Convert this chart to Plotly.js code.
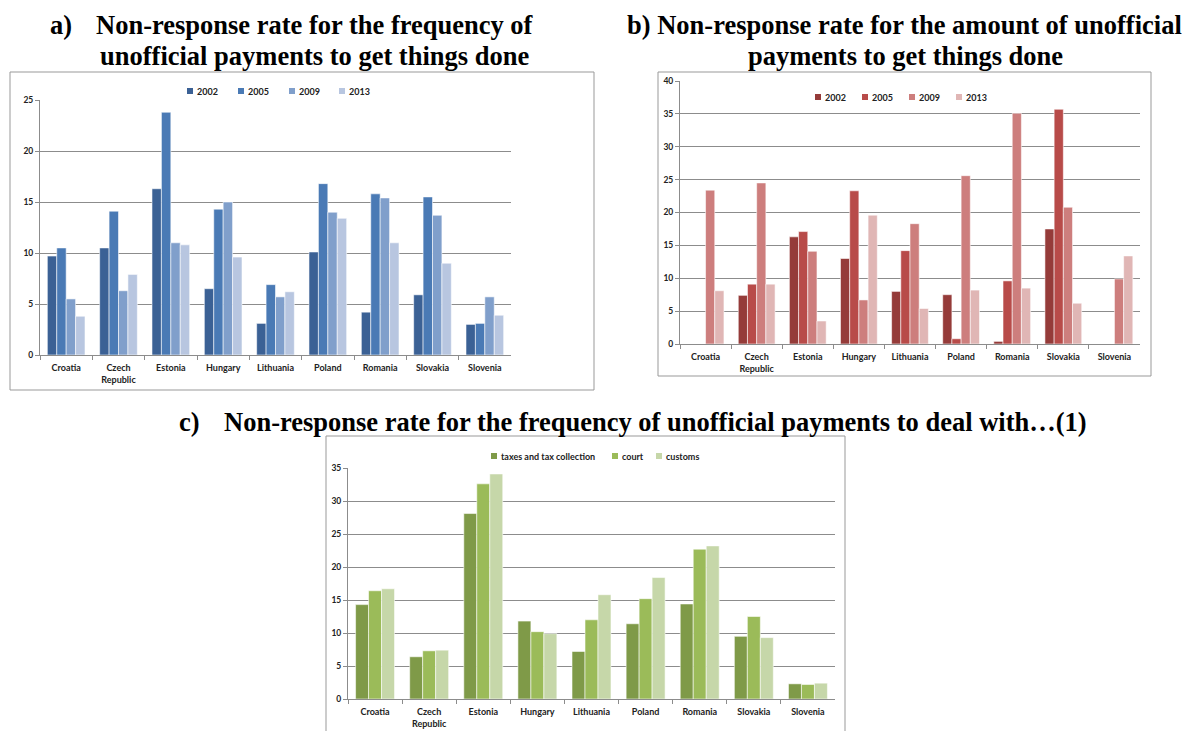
<!DOCTYPE html>
<html>
<head>
<meta charset="utf-8">
<script src="https://cdn.plot.ly/plotly-3.0.1.min.js"></script>
<style>
  html, body { margin: 0; padding: 0; background: #fff; }
  #chart { width: 1186px; height: 731px; }
</style>
</head>
<body>
<div id="chart"></div>
<script>
// countries shared by the three panels
const countries = ['Croatia', 'Czech<br>Republic', 'Estonia', 'Hungary', 'Lithuania',
                   'Poland', 'Romania', 'Slovakia', 'Slovenia'];

// a) frequency of unofficial payments to get things done
const yearsA = ['2002', '2005', '2009', '2013'];
const freq2002 = [9.7, 10.5, 16.3, 6.5, 3.1, 10.1, 4.2, 5.9, 3.0];
const freq2005 = [10.5, 14.1, 23.8, 14.3, 6.9, 16.8, 15.8, 15.5, 3.1];
const freq2009 = [5.5, 6.3, 11.0, 15.0, 5.7, 14.0, 15.4, 13.7, 5.7];
const freq2013 = [3.8, 7.9, 10.8, 9.6, 6.2, 13.4, 11.0, 9.0, 3.9];

// b) amount of unofficial payments to get things done
const amt2002 = [null, 7.4, 16.3, 13.0, 8.0, 7.5, 0.4, 17.5, null];
const amt2005 = [null, 9.1, 17.1, 23.3, 14.2, 0.8, 9.6, 35.7, null];
const amt2009 = [23.4, 24.5, 14.1, 6.7, 18.3, 25.6, 35.1, 20.8, 9.9];
const amt2013 = [8.1, 9.1, 3.5, 19.6, 5.4, 8.2, 8.5, 6.2, 13.4];

// c) frequency of unofficial payments to deal with...
const dealNames = ['taxes and tax collection', 'court', 'customs'];
const dealTaxes = [14.3, 6.4, 28.1, 11.8, 7.2, 11.4, 14.4, 9.5, 2.3];
const dealCourt = [16.4, 7.3, 32.6, 10.2, 12.0, 15.2, 22.7, 12.5, 2.2];
const dealCustoms = [16.7, 7.4, 34.1, 9.9, 15.8, 18.4, 23.2, 9.3, 2.4];

const blues = ['#3b6195', '#4a7ab5', '#809fcb', '#b8c6e0'];
const reds = ['#953b39', '#b84b49', '#cd7e7d', '#e0b6b5'];
const greens = ['#7f9a48', '#9bbb59', '#c6d7a9'];

const W = 1186, H = 731;
const px = x => x / W;
const py = y => 1 - y / H;

const gray = '#8c8c8c';
const sans = 'Lato, "Open Sans", sans-serif';
const tickFont = { family: sans, size: 8.5, color: '#222', weight: 'bold' };
const catFont = { family: sans, size: 9, color: '#222', weight: 'bold' };
const keyFont = { family: sans, size: 9, color: '#222', weight: 'bold' };
const titleFont = { family: '"Liberation Serif", "Times New Roman", serif', size: 26.5, color: '#000', weight: 'bold' };

const shapes = [];
const annotations = [];

// Excel-style keys: a small square right before the series name
function key(name, color, textX, textY) {
  shapes.push({ type: 'rect', xref: 'paper', yref: 'paper',
                x0: px(textX - 8), x1: px(textX - 2), y0: py(textY + 3), y1: py(textY - 3),
                fillcolor: color, line: { width: 0 } });
  annotations.push({ text: name, xref: 'paper', yref: 'paper', x: px(textX), y: py(textY),
                     xanchor: 'left', yanchor: 'middle', showarrow: false, font: keyFont });
}

function bars(name, values, color, xa, ya) {
  return {
    type: 'bar', name: name, x: countries, y: values,
    xaxis: xa, yaxis: ya, showlegend: false,
    marker: { color: color, line: { color: 'rgba(255,255,255,0.7)', width: 0.8 } },
    hoverinfo: 'x+y+name'
  };
}

const data = [];
const keyA = [195, 246, 297, 347];
[freq2002, freq2005, freq2009, freq2013].forEach((v, i) => {
  data.push(bars(yearsA[i], v, blues[i], 'x', 'y'));
  key(yearsA[i], blues[i], keyA[i], 91);
});
const keyB = [823, 870, 917, 964];
[amt2002, amt2005, amt2009, amt2013].forEach((v, i) => {
  data.push(bars(yearsA[i], v, reds[i], 'x2', 'y2'));
  key(yearsA[i], reds[i], keyB[i], 97);
});
const keyC = [499, 620, 664];
[dealTaxes, dealCourt, dealCustoms].forEach((v, i) => {
  data.push(bars(dealNames[i], v, greens[i], 'x3', 'y3'));
  key(dealNames[i], greens[i], keyC[i], 456);
});

function xAxis(domain, anchor) {
  return {
    domain: domain, anchor: anchor, type: 'category',
    showline: true, linecolor: gray, linewidth: 1,
    ticks: 'outside', tickson: 'boundaries', ticklen: 4, tickcolor: gray,
    ticklabelstandoff: 4,
    showgrid: false, tickfont: catFont, fixedrange: true
  };
}
function yAxis(domain, anchor, top) {
  return {
    domain: domain, anchor: anchor, range: [0, top], dtick: 5,
    showline: true, linecolor: gray, linewidth: 1,
    ticks: 'outside', ticklen: 4, tickcolor: gray,
    showgrid: true, gridcolor: gray, gridwidth: 1, zeroline: false,
    tickfont: tickFont, fixedrange: true
  };
}
function box(x0, y0, x1, y1) {
  shapes.push({ type: 'rect', xref: 'paper', yref: 'paper',
                x0: px(x0), x1: px(x1), y0: py(y1), y1: py(y0),
                line: { color: '#999', width: 1 }, layer: 'below' });
}
function note(text, x, y, xanchor) {
  annotations.push({ text: text, xref: 'paper', yref: 'paper', x: px(x), y: py(y),
                     xanchor: xanchor, yanchor: 'middle',
                     showarrow: false, font: titleFont });
}

box(10, 72, 594, 390);
box(658, 72, 1151, 376);
box(326, 436, 845, 740);

note('a)', 48, 25, 'left');
note('Non-response rate for the frequency of', 315, 25, 'center');
note('unofficial payments to get things done', 314, 56, 'center');
note('b) Non-response rate for the amount of unofficial', 904, 25, 'center');
note('payments to get things done', 905, 56, 'center');
note('c)', 177, 422, 'left');
note('Non-response rate for the frequency of unofficial payments to deal with\u2026(1)', 222, 422, 'left');

const layout = {
  width: W, height: H,
  margin: { l: 0, r: 0, t: 0, b: 0 },
  paper_bgcolor: '#fff', plot_bgcolor: '#fff',
  showlegend: false,
  barmode: 'group', bargap: 0.28, bargroupgap: 0,
  xaxis: xAxis([px(40), px(511)], 'y'),
  yaxis: yAxis([py(355), py(100)], 'x', 25),
  xaxis2: xAxis([px(680), px(1140)], 'y2'),
  yaxis2: yAxis([py(344), py(81)], 'x2', 40),
  xaxis3: xAxis([px(348), px(835)], 'y3'),
  yaxis3: yAxis([py(699), py(468)], 'x3', 35),
  shapes: shapes,
  annotations: annotations
};

Plotly.newPlot('chart', data, layout, { staticPlot: true, displayModeBar: false });
</script>
</body>
</html>
